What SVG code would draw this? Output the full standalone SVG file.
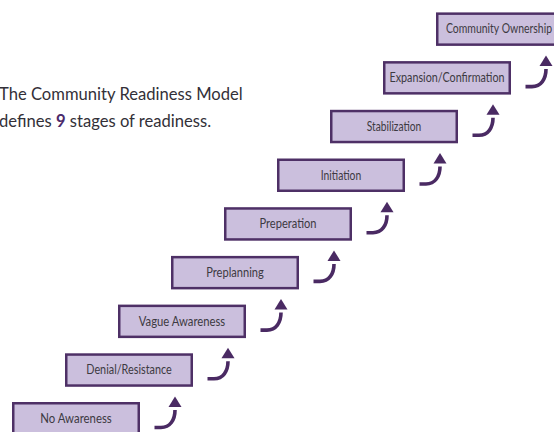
<svg xmlns="http://www.w3.org/2000/svg" xmlns:xlink="http://www.w3.org/1999/xlink" width="554" height="432" viewBox="0 0 554 432">
  <style>
    .box { fill: #cbbfdd; stroke: #4e3066; stroke-width: 2.5; }
    .lbl { font-family: Lato, "Liberation Sans", sans-serif; font-size: 12.5px; fill: #3d3a42; text-anchor: middle; }
    .intro { font-family: Lato, "Liberation Sans", sans-serif; font-size: 16.6px; fill: #333038; }
    .num { fill: #4b2a6b; font-weight: bold; }
    .step-line { fill: none; stroke: #4a2a63; stroke-width: 3.6; }
    .step-head { fill: #4a2a63; }
  </style>
  <defs>
    <!-- curved "step up" arrow, origin at the lower-left stage box corner -->
    <g id="stepArrow">
      <path class="step-line" d="M142.5,25.5 H149 C158,25.5 163,18 163,8"/>
      <polygon class="step-head" points="163,-5.5 169.5,5 156.5,5"/>
    </g>
  </defs>

  <rect width="554" height="432" fill="#ffffff"/>

  <g id="intro">
    <text class="intro" x="-1" y="99.5">The Community Readiness Model</text>
    <text class="intro" x="-1" y="126.5">defines <tspan class="num">9</tspan> stages of readiness.</text>
  </g>

  <g id="connectors">
    <use xlink:href="#stepArrow" transform="translate(12,402)"/>
    <use xlink:href="#stepArrow" transform="translate(65,353.3)"/>
    <use xlink:href="#stepArrow" transform="translate(118,304.6)"/>
    <use xlink:href="#stepArrow" transform="translate(171,255.9)"/>
    <use xlink:href="#stepArrow" transform="translate(224,207.2)"/>
    <use xlink:href="#stepArrow" transform="translate(277,158.5)"/>
    <use xlink:href="#stepArrow" transform="translate(330,109.8)"/>
    <use xlink:href="#stepArrow" transform="translate(383,61.1)"/>
  </g>

  <g id="stage-no-awareness" transform="translate(12,402)">
    <rect class="box" x="1.25" y="1.25" width="125.5" height="31"/>
    <text class="lbl" x="64" y="21" textLength="71.5" lengthAdjust="spacingAndGlyphs">No Awareness</text>
  </g>
  <g id="stage-denial-resistance" transform="translate(65,353.3)">
    <rect class="box" x="1.25" y="1.25" width="125.5" height="31"/>
    <text class="lbl" x="64" y="21" textLength="85.5" lengthAdjust="spacingAndGlyphs">Denial/Resistance</text>
  </g>
  <g id="stage-vague-awareness" transform="translate(118,304.6)">
    <rect class="box" x="1.25" y="1.25" width="125.5" height="31"/>
    <text class="lbl" x="64" y="21" textLength="86.5" lengthAdjust="spacingAndGlyphs">Vague Awareness</text>
  </g>
  <g id="stage-preplanning" transform="translate(171,255.9)">
    <rect class="box" x="1.25" y="1.25" width="125.5" height="31"/>
    <text class="lbl" x="64" y="21" textLength="57.5" lengthAdjust="spacingAndGlyphs">Preplanning</text>
  </g>
  <g id="stage-preperation" transform="translate(224,207.2)">
    <rect class="box" x="1.25" y="1.25" width="125.5" height="31"/>
    <text class="lbl" x="64" y="21" textLength="57" lengthAdjust="spacingAndGlyphs">Preperation</text>
  </g>
  <g id="stage-initiation" transform="translate(277,158.5)">
    <rect class="box" x="1.25" y="1.25" width="125.5" height="31"/>
    <text class="lbl" x="64" y="21" textLength="40.5" lengthAdjust="spacingAndGlyphs">Initiation</text>
  </g>
  <g id="stage-stabilization" transform="translate(330,109.8)">
    <rect class="box" x="1.25" y="1.25" width="125.5" height="31"/>
    <text class="lbl" x="64" y="21" textLength="54.5" lengthAdjust="spacingAndGlyphs">Stabilization</text>
  </g>
  <g id="stage-expansion-confirmation" transform="translate(383,61.1)">
    <rect class="box" x="1.25" y="1.25" width="125.5" height="31"/>
    <text class="lbl" x="64" y="21" textLength="115" lengthAdjust="spacingAndGlyphs">Expansion/Confirmation</text>
  </g>
  <g id="stage-community-ownership" transform="translate(436,12.4)">
    <rect class="box" x="1.25" y="1.25" width="125.5" height="31"/>
    <text class="lbl" x="63" y="21" textLength="106" lengthAdjust="spacingAndGlyphs">Community Ownership</text>
  </g>
</svg>
